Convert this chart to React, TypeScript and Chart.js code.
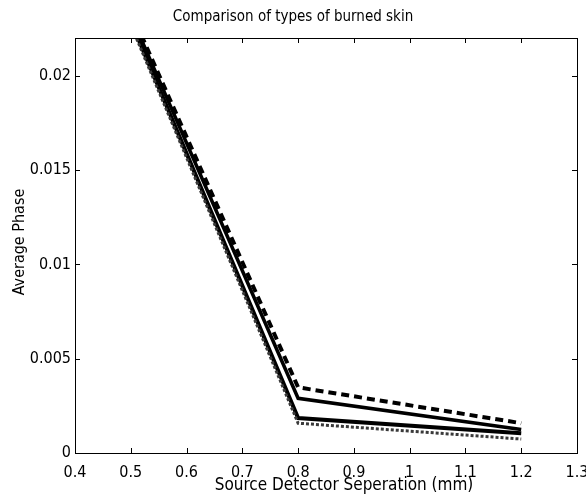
import React, { useEffect, useRef } from "react";
import { Chart, registerables } from "chart.js";

Chart.register(...registerables);

const xValues = [0.5, 0.8, 1.2];
const dashedSeries = [0.0234, 0.00348, 0.00158];
const solidUpperSeries = [0.0232, 0.0029, 0.00125];
const solidLowerSeries = [0.0229, 0.00185, 0.00105];
const dottedSeries = [0.0227, 0.00158, 0.00074];

const xTicks = [0.4, 0.5, 0.6, 0.7, 0.8, 0.9, 1.0, 1.1, 1.2, 1.3];
const xTickLabels = ["0.4", "0.5", "0.6", "0.7", "0.8", "0.9", "1", "1.1", "1.2", "1.3"];
const yTicks = [0, 0.005, 0.01, 0.015, 0.02];
const yTickLabels = ["0", "0.005", "0.01", "0.015", "0.02"];

const titleText = "Comparison of types of burned skin";
const xTitle = "Source Detector Seperation (mm)";
const yTitle = "Average Phase";

const NARROW = '"Liberation Sans Narrow", "DejaVu Sans Condensed", sans-serif';

const toPts = (ys: number[]) => xValues.map((x, i) => ({ x, y: ys[i] }));

const framePlugin = {
  id: "frame",
  afterDraw(chart: any) {
    const { ctx, chartArea } = chart;
    const { left, right, top, bottom } = chartArea;
    const xs = chart.scales.x;
    const ys = chart.scales.y;
    ctx.save();
    ctx.strokeStyle = "#000";
    ctx.lineWidth = 1;
    ctx.strokeRect(left + 0.5, top + 0.5, right - left, bottom - top);
    const tl = 5;
    ctx.beginPath();
    xTicks.forEach((v) => {
      const px = Math.round(xs.getPixelForValue(v)) + 0.5;
      ctx.moveTo(px, bottom);
      ctx.lineTo(px, bottom - tl);
      ctx.moveTo(px, top);
      ctx.lineTo(px, top + tl);
    });
    yTicks.forEach((v) => {
      const py = Math.round(ys.getPixelForValue(v)) + 0.5;
      ctx.moveTo(left, py);
      ctx.lineTo(left + tl, py);
      ctx.moveTo(right, py);
      ctx.lineTo(right - tl, py);
    });
    ctx.stroke();

    ctx.fillStyle = "#000";
    ctx.textAlign = "center";
    ctx.textBaseline = "middle";
    ctx.font = "15px " + NARROW;
    ctx.fillText(titleText, 293, 17);
    ctx.font = "17px " + NARROW;
    ctx.fillText(xTitle, 344, 486);
    ctx.font = "16px " + NARROW;
    ctx.translate(20, 242);
    ctx.rotate(-Math.PI / 2);
    ctx.fillText(yTitle, 0, 0);
    ctx.restore();
  },
};

export default function App() {
  const ref = useRef<HTMLCanvasElement>(null);
  useEffect(() => {
    document.body.style.margin = "0";
    const canvas = ref.current!;
    const chart = new Chart(canvas, {
      type: "scatter",
      data: {
        datasets: [
          {
            data: toPts(dottedSeries),
            showLine: true,
            borderColor: "#3a3a3a",
            borderWidth: 3,
            borderDash: [3, 2],
            pointRadius: 0,
          },
          {
            data: toPts(solidLowerSeries),
            showLine: true,
            borderColor: "#000",
            borderWidth: 4,
            pointRadius: 0,
          },
          {
            data: toPts(solidUpperSeries),
            showLine: true,
            borderColor: "#000",
            borderWidth: 3.5,
            pointRadius: 0,
          },
          {
            data: toPts(dashedSeries),
            showLine: true,
            borderColor: "#000",
            borderWidth: 4,
            borderDash: [8, 5],
            pointRadius: 0,
          },
        ],
      },
      options: {
        animation: false,
        responsive: false,
        maintainAspectRatio: false,
        layout: { padding: { left: 0, top: 38, right: 0, bottom: 0 } },
        plugins: { legend: { display: false }, tooltip: { enabled: false }, title: { display: false } },
        scales: {
          x: {
            type: "linear",
            min: 0.4,
            max: 1.3,
            border: { display: false },
            grid: { display: false, drawTicks: false },
            afterBuildTicks: (s: any) => {
              s.ticks = xTicks.map((v) => ({ value: v }));
            },
            afterFit: (s: any) => {
              s.height = 44;
              s.paddingLeft = 0;
              s.paddingRight = 9;
            },
            ticks: {
              autoSkip: false,
              maxRotation: 0,
              padding: 10,
              color: "#000",
              font: { family: NARROW, size: 16 },
              callback: (v: any) => {
                const i = xTicks.findIndex((t) => Math.abs(t - v) < 1e-9);
                return i >= 0 ? xTickLabels[i] : "";
              },
            },
          },
          y: {
            type: "linear",
            min: 0,
            max: 0.022,
            border: { display: false },
            grid: { display: false, drawTicks: false },
            afterBuildTicks: (s: any) => {
              s.ticks = yTicks.map((v) => ({ value: v }));
            },
            afterFit: (s: any) => {
              s.width = 75;
              s.paddingTop = 0;
              s.paddingBottom = 0;
            },
            ticks: {
              autoSkip: false,
              padding: 4,
              color: "#000",
              font: { family: NARROW, size: 16 },
              callback: (v: any) => {
                const i = yTicks.findIndex((t) => Math.abs(t - v) < 1e-9);
                return i >= 0 ? yTickLabels[i] : "";
              },
            },
          },
        },
      },
      plugins: [framePlugin],
    } as any);
    return () => chart.destroy();
  }, []);
  return (
    <div style={{ position: "fixed", left: 0, top: 0, width: 586, height: 497, background: "#fff" }}>
      <canvas ref={ref} width={586} height={497} style={{ width: 586, height: 497 }} />
    </div>
  );
}
